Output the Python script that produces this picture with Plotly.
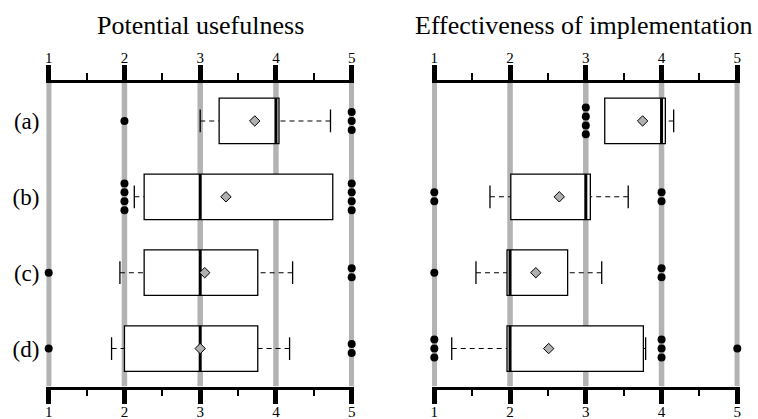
import plotly.graph_objects as go

rows = ["(a)", "(b)", "(c)", "(d)"]
row_pos = [1, 2, 3, 4]
tick_vals = [1, 2, 3, 4, 5]
tick_text = ["1", "2", "3", "4", "5"]
minor_vals = [1.5, 2.5, 3.5, 4.5]

panel_titles = ["Potential usefulness", "Effectiveness of implementation"]

# Potential usefulness
use_q1 = [3.25, 2.26, 2.26, 2.0]
use_med = [4.0, 3.0, 3.0, 3.0]
use_q3 = [4.04, 4.75, 3.76, 3.76]
use_lo = [3.0, 2.13, 1.94, 1.83]
use_hi = [4.72, 4.57, 4.22, 4.18]
use_mean = [3.72, 3.34, 3.06, 3.0]
use_out = [[2, 5, 5, 5], [2, 2, 2, 2, 5, 5, 5, 5], [1, 5, 5], [1, 5, 5]]

# Effectiveness of implementation
eff_q1 = [3.25, 2.01, 1.96, 1.96]
eff_med = [4.0, 3.0, 2.0, 2.0]
eff_q3 = [4.05, 3.06, 2.76, 3.76]
eff_lo = [3.25, 1.735, 1.55, 1.23]
eff_hi = [4.16, 3.56, 3.21, 3.79]
eff_mean = [3.75, 2.65, 2.34, 2.51]
eff_out = [[3, 3, 3, 3], [1, 1, 4, 4], [1, 4, 4], [1, 1, 1, 4, 4, 4, 5]]

W, H = 758, 419
FONT = "Liberation Serif"
GRAY = "#b3b3b3"
BOX_H = 0.30
CAP_H = 0.15
STACK = 0.118

fig = go.Figure()
shapes = []

panels = [
    dict(x="x", xt="x3", y="y", q1=use_q1, med=use_med, q3=use_q3, lo=use_lo,
         hi=use_hi, mean=use_mean, out=use_out, dom=[46.43, 353.97], title_cx=200),
    dict(x="x2", xt="x4", y="y2", q1=eff_q1, med=eff_med, q3=eff_q3, lo=eff_lo,
         hi=eff_hi, mean=eff_mean, out=eff_out, dom=[432.03, 739.57], title_cx=583),
]

for p in panels:
    xr, yr = p["x"], p["y"]
    for v in tick_vals:
        shapes.append(dict(type="line", xref=xr, yref=yr, x0=v, x1=v, y0=0.5, y1=4.5,
                           line=dict(color=GRAY, width=5.5), layer="below"))
    for i, yc in enumerate(row_pos):
        q1, med, q3 = p["q1"][i], p["med"][i], p["q3"][i]
        lo, hi = p["lo"][i], p["hi"][i]
        for w, edge in ((lo, q1), (hi, q3)):
            if abs(w - edge) > 1e-6:
                shapes.append(dict(type="line", xref=xr, yref=yr, x0=w, x1=edge, y0=yc, y1=yc,
                                   line=dict(color="black", width=1.1, dash="5px,4px"),
                                   layer="below"))
                shapes.append(dict(type="line", xref=xr, yref=yr, x0=w, x1=w,
                                   y0=yc - CAP_H, y1=yc + CAP_H,
                                   line=dict(color="black", width=1.3), layer="below"))
        shapes.append(dict(type="rect", xref=xr, yref=yr, x0=q1, x1=q3,
                           y0=yc - BOX_H, y1=yc + BOX_H,
                           line=dict(color="black", width=1.3), fillcolor="white",
                           layer="below"))
        shapes.append(dict(type="line", xref=xr, yref=yr, x0=med, x1=med,
                           y0=yc - BOX_H, y1=yc + BOX_H,
                           line=dict(color="black", width=3), layer="below"))

    ox, oy = [], []
    for i, yc in enumerate(row_pos):
        vals = p["out"][i]
        for v in sorted(set(vals)):
            n = vals.count(v)
            for k in range(n):
                ox.append(v)
                oy.append(yc + (k - (n - 1) / 2) * STACK)
    fig.add_trace(go.Scatter(x=ox, y=oy, mode="markers", xaxis=xr, yaxis=yr,
                             marker=dict(symbol="circle", size=8, color="black"),
                             cliponaxis=False, showlegend=False, hoverinfo="skip"))
    fig.add_trace(go.Scatter(x=p["mean"], y=row_pos, mode="markers", xaxis=p["xt"], yaxis=yr,
                             marker=dict(symbol="diamond", size=8, color="#b0b0b0",
                                         line=dict(color="black", width=1)),
                             cliponaxis=False, showlegend=False, hoverinfo="skip"))

ydom = [1 - 386.5 / H, 1 - 83 / H]
xrange_ = [0.97, 5.03]

def xax(dom, anchor, side, standoff, overlay=None):
    d = dict(domain=[dom[0] / W, dom[1] / W], range=xrange_, anchor=anchor, side=side,
             tickvals=tick_vals, ticktext=tick_text, ticks="outside", ticklen=15,
             tickwidth=5, tickcolor="black", showline=True, linecolor="black",
             linewidth=2.5, showgrid=False, zeroline=False, automargin=False,
             tickfont=dict(family=FONT, size=15, color="black"),
             ticklabelstandoff=standoff,
             minor=dict(tickvals=minor_vals, ticks="outside", ticklen=7, tickwidth=1.5,
                        tickcolor="black", showgrid=False),
             fixedrange=True)
    if overlay:
        d["overlaying"] = overlay
    return d

yax_common = dict(domain=ydom, range=[4.5, 0.5], showline=False, showgrid=False,
                  zeroline=False, ticks="", fixedrange=True, automargin=False)

annotations = []
for p, t in zip(panels, panel_titles):
    annotations.append(dict(text=t, x=p["title_cx"] / W, y=1 - 26 / H, xref="paper",
                            yref="paper", xanchor="center", yanchor="middle",
                            showarrow=False,
                            font=dict(family=FONT, size=26, color="black")))

fig.update_layout(
    width=W, height=H, margin=dict(l=0, r=0, t=0, b=0, autoexpand=False),
    paper_bgcolor="white", plot_bgcolor="white",
    showlegend=False,
    xaxis=xax(panels[0]["dom"], "y", "bottom", -5),
    xaxis3=xax(panels[0]["dom"], "y", "top", -4, "x"),
    xaxis2=xax(panels[1]["dom"], "y2", "bottom", -5),
    xaxis4=xax(panels[1]["dom"], "y2", "top", -4, "x2"),
    yaxis=dict(**yax_common, anchor="x", tickvals=row_pos, ticktext=rows,
               tickfont=dict(family=FONT, size=23, color="black"), ticklabelstandoff=6),
    yaxis2=dict(**yax_common, anchor="x2", showticklabels=False),
    shapes=shapes,
    annotations=annotations,
)

fig.write_html("out.html", config={"displayModeBar": False},
               post_script="document.body.style.margin='0';document.body.style.overflow='hidden';")
